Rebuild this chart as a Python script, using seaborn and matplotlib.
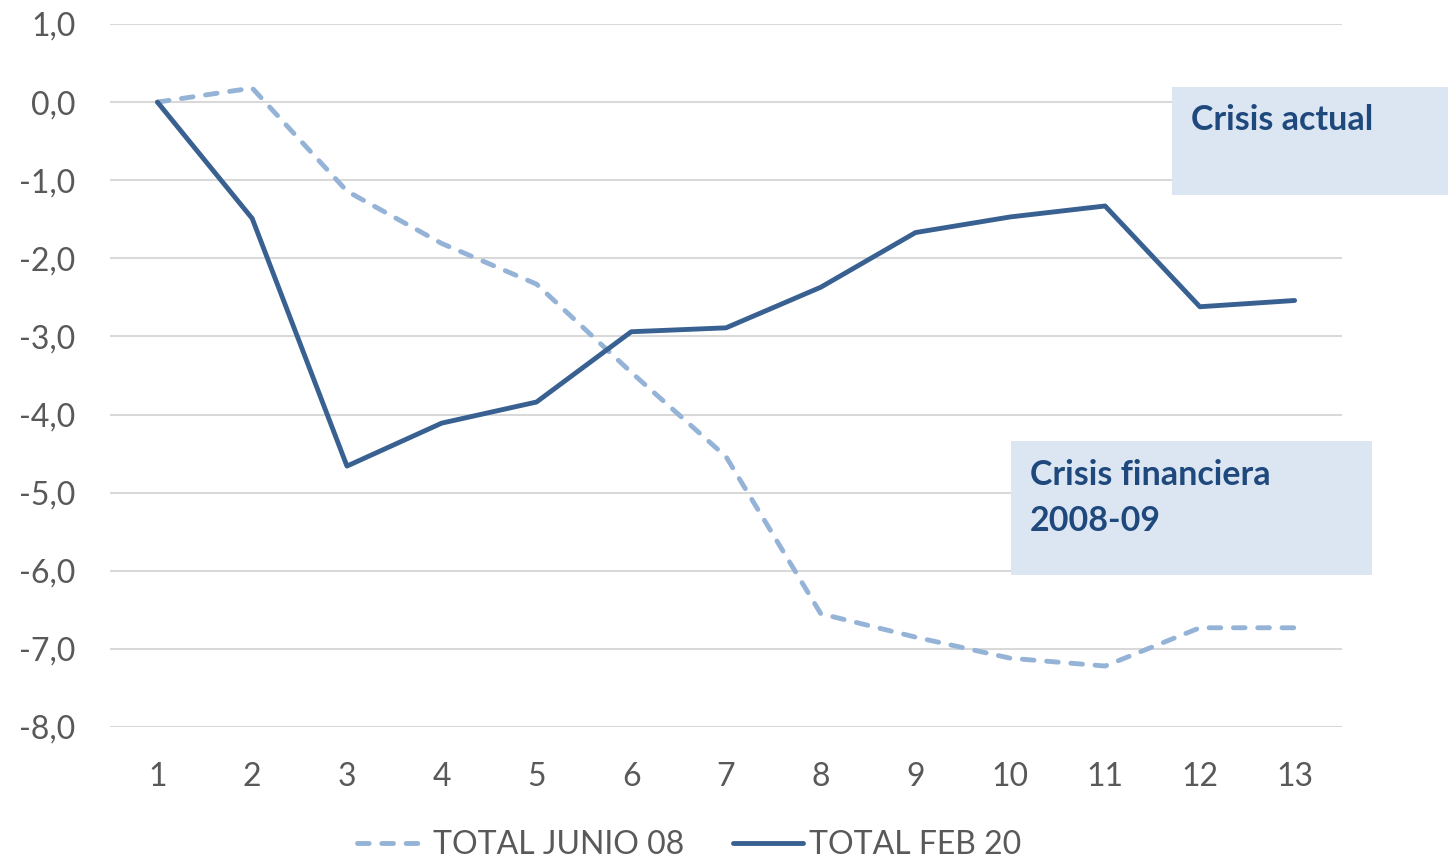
import matplotlib.pyplot as plt
import pandas as pd
import seaborn as sns
from matplotlib.patches import Rectangle

# data
months = list(range(1, 14))
junio_08 = [0.0, 0.18, -1.14, -1.81, -2.33, -3.46, -4.54, -6.55, -6.85, -7.12, -7.22, -6.73, -6.73]
feb_20 = [0.0, -1.49, -4.66, -4.11, -3.84, -2.94, -2.89, -2.37, -1.67, -1.47, -1.33, -2.62, -2.54]
y_ticks = [1, 0, -1, -2, -3, -4, -5, -6, -7, -8]

sns.set_style('white')
plt.rcParams['font.family'] = ['Lato', 'DejaVu Sans']

data = pd.DataFrame({'mes': months, 'TOTAL JUNIO 08': junio_08, 'TOTAL FEB 20': feb_20})

fig = plt.figure(figsize=(14.48, 8.6), dpi=100)
ax = fig.add_axes([0.076, 0.1547, 0.8508, 0.8174])

# gridlines
for y in y_ticks:
    ax.axhline(y, color='#d9d9d9', linewidth=1.5, zorder=0)

sns.lineplot(x='mes', y='TOTAL JUNIO 08', data=data, ax=ax, color='#95b3d7',
             linewidth=3.5, label='TOTAL JUNIO 08')
ax.lines[-1].set_linestyle((0, (2.4, 2.6)))
ax.lines[-1].set_dash_capstyle('round')
sns.lineplot(x='mes', y='TOTAL FEB 20', data=data, ax=ax, color='#386192',
             linewidth=3.5, label='TOTAL FEB 20')
ax.lines[-1].set_solid_capstyle('round')

ax.set_xlim(0.5, 13.5)
ax.set_ylim(-8, 1)
ax.set_xticks(months)
ax.set_yticks(y_ticks)
ax.set_yticklabels([f'{v:.1f}'.replace('.', ',') for v in y_ticks])
ax.tick_params(axis='both', length=0, labelsize=23, labelcolor='#595959', pad=25)
ax.set_xlabel('')
ax.set_ylabel('')
for s in ax.spines.values():
    s.set_visible(False)

# annotation boxes
ax.add_patch(Rectangle((11.71, -1.19), 2.95, 1.38, facecolor='#dce6f2',
                       edgecolor='none', clip_on=False, zorder=3))
ax.text(11.91, -0.23, 'Crisis actual', fontsize=24.5, fontweight='bold',
        color='#1f497d', va='center', zorder=4)
ax.add_patch(Rectangle((10.01, -6.06), 3.81, 1.72, facecolor='#dce6f2',
                       edgecolor='none', clip_on=False, zorder=3))
ax.text(10.21, -4.78, 'Crisis financiera', fontsize=24.5, fontweight='bold',
        color='#1f497d', va='center', zorder=4)
ax.text(10.21, -5.36, '2008-09', fontsize=24.5, fontweight='bold',
        color='#1f497d', va='center', zorder=4)

leg = ax.legend(loc='center', bbox_to_anchor=(0.47, -0.168), ncol=2,
                frameon=False, fontsize=23, handlelength=2.2, handletextpad=0.2,
                columnspacing=1.5)
for t in leg.get_texts():
    t.set_color('#595959')

fig.savefig('out.png', dpi=100)
